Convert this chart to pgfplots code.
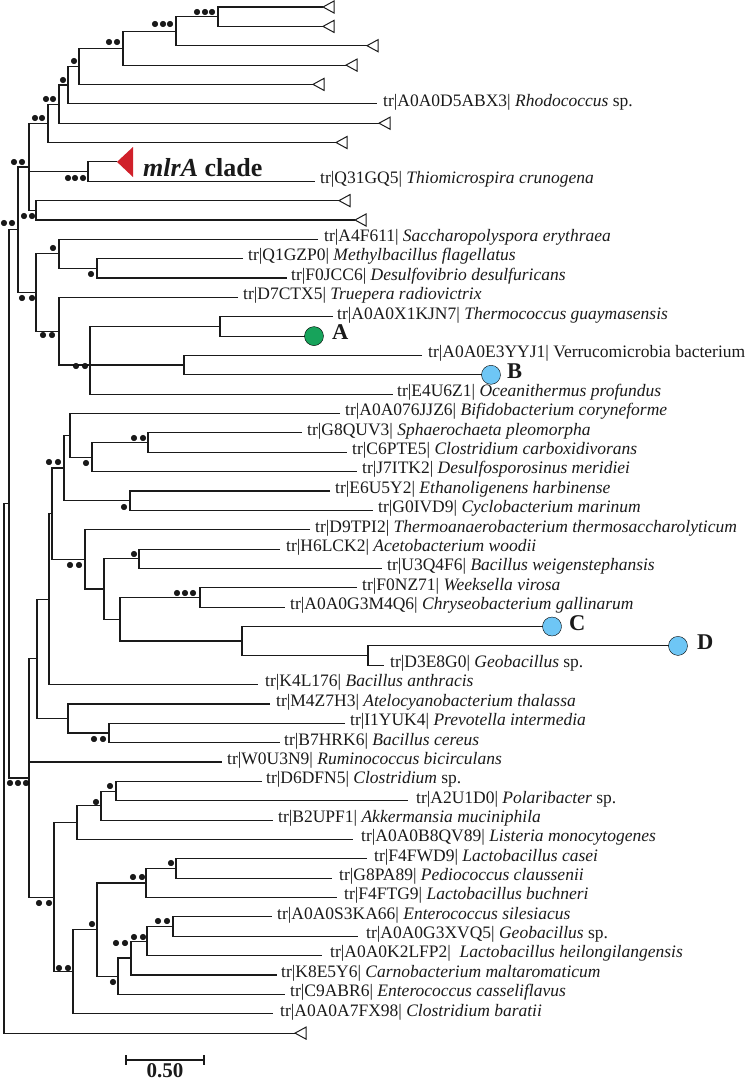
\documentclass[border=0pt]{standalone}
\usepackage{fontspec}
\setmainfont{Liberation Serif}
\usepackage{pgfplots}
\pgfplotsset{compat=1.18}
\definecolor{brc}{HTML}{1A1A1A}
\definecolor{dotgreen}{HTML}{17A35B}
\definecolor{dotblue}{HTML}{6EC6F5}
\definecolor{mlrred}{HTML}{D0202A}
\tikzset{
  br/.style={brc,line width=1.1pt},
  tri/.style={brc,line width=1.0pt,line join=miter},
  lab/.style={anchor=mid west,inner sep=0pt,font=\fontsize{17.5}{20}\selectfont,text=brc},
  big/.style={anchor=mid west,inner sep=0pt,font=\fontsize{22.5}{26}\selectfont\bfseries,text=brc}}
\begin{document}
\begin{tikzpicture}
\begin{axis}[width=751pt,height=1081pt,scale only axis,
  xmin=0,xmax=751,ymin=0,ymax=1081,y dir=reverse,hide axis,clip=false,
  unbounded coords=jump]
% ---- upper clade
\addplot[br,no marks] coordinates {(323,7.0)(218,7.0)(218,26.4)(323,26.4)};
\addplot[br,no marks] coordinates {(218,16.7)(176,16.7)(176,45.7)(367,45.7)};
\addplot[br,no marks] coordinates {(176,31.2)(123,31.2)(123,65.1)(346,65.1)};
\addplot[br,no marks] coordinates {(123,48.2)(79,48.2)(79,84.4)(313,84.4)};
\addplot[br,no marks] coordinates {(79,66.3)(68,66.3)(68,103.8)(377,103.8)};
\addplot[br,no marks] coordinates {(68,85.0)(59,85.0)(59,123.2)(379,123.2)};
\addplot[br,no marks] coordinates {(59,104.1)(48,104.1)(48,142.5)(336,142.5)};
\addplot[br,no marks] coordinates {(117,161.9)(88,161.9)(88,181.2)(315,181.2)};
\addplot[br,no marks] coordinates {(339,200.6)(36,200.6)(36,220.0)(355,220.0)};
\addplot[br,no marks] coordinates {(48,123.3)(29,123.3)(29,210.3)(36,210.3) (nan,nan) (29,171.5)(88,171.5)};
\addplot[br,no marks] coordinates {(29,167)(18,167)(18,292.5)(36,292.5)};
\addplot[br,no marks] coordinates {(243,258.7)(97,258.7)(97,278.0)(287,278.0)};
\addplot[br,no marks] coordinates {(318,239.3)(59,239.3)(59,268.3)(97,268.3)};
\addplot[br,no marks] coordinates {(59,253.8)(36,253.8)(36,331.2)(59,331.2)};
\addplot[br,no marks] coordinates {(238,297.4)(59,297.4)(59,365)(90,365)};
\addplot[br,no marks] coordinates {(220,326.5)(90,326.5)(90,394.2)(393,394.2) (nan,nan) (90,365)(184,365)};
\addplot[br,no marks] coordinates {(333,316.8)(220,316.8)(220,336.1)(314,336.1)};
\addplot[br,no marks] coordinates {(422,355.5)(184,355.5)(184,374.8)(491,374.8)};
\addplot[br,no marks] coordinates {(18,229.8)(9,229.8)(9,778)(29,778)};
\addplot[br,no marks] coordinates {(9,503.9)(4,503.9)(4,1033.1)(295,1033.1)};
% ---- lower clade
\addplot[br,no marks] coordinates {(302,432.9)(148,432.9)(148,452.3)(347,452.3)};
\addplot[br,no marks] coordinates {(148,442.6)(92,442.6)(92,471.6)(357,471.6)};
\addplot[br,no marks] coordinates {(340,413.6)(70,413.6)(70,457.1)(92,457.1)};
\addplot[br,no marks] coordinates {(330,491.0)(130,491.0)(130,510.4)(373,510.4)};
\addplot[br,no marks] coordinates {(70,435.4)(64,435.4)(64,500.7)(130,500.7)};
\addplot[br,no marks] coordinates {(280,549.1)(139,549.1)(139,568.4)(382,568.4)};
\addplot[br,no marks] coordinates {(357,587.8)(200,587.8)(200,607.2)(285,607.2)};
\addplot[br,no marks] coordinates {(678,645.9)(368,645.9)(368,665.2)(384,665.2)};
\addplot[br,no marks] coordinates {(552,626.5)(242,626.5)(242,655.6)(368,655.6)};
\addplot[br,no marks] coordinates {(200,597.5)(120,597.5)(120,641)(242,641)};
\addplot[br,no marks] coordinates {(139,558.8)(104,558.8)(104,619.3)(120,619.3)};
\addplot[br,no marks] coordinates {(310,529.7)(85,529.7)(85,589)(104,589)};
\addplot[br,no marks] coordinates {(64,468)(52,468)(52,559.4)(85,559.4)};
\addplot[br,no marks] coordinates {(52,513.7)(49,513.7)(49,684.6)(258,684.6)};
\addplot[br,no marks] coordinates {(345,723.3)(109,723.3)(109,742.7)(280,742.7)};
\addplot[br,no marks] coordinates {(270,704.0)(68,704.0)(68,733)(109,733)};
\addplot[br,no marks] coordinates {(49,599.2)(37,599.2)(37,718.5)(68,718.5)};
\addplot[br,no marks] coordinates {(262,781.4)(116,781.4)(116,800.8)(408,800.8)};
\addplot[br,no marks] coordinates {(116,791.1)(101,791.1)(101,820.1)(273,820.1)};
\addplot[br,no marks] coordinates {(101,805.6)(77,805.6)(77,839.5)(353,839.5)};
\addplot[br,no marks] coordinates {(367,858.8)(176,858.8)(176,878.2)(332,878.2)};
\addplot[br,no marks] coordinates {(176,868.5)(146,868.5)(146,897.6)(337,897.6)};
\addplot[br,no marks] coordinates {(272,916.9)(173,916.9)(173,936.3)(358,936.3)};
\addplot[br,no marks] coordinates {(173,926.6)(147,926.6)(147,955.6)(322,955.6)};
\addplot[br,no marks] coordinates {(147,941.1)(131,941.1)(131,975.0)(277,975.0)};
\addplot[br,no marks] coordinates {(131,958)(118,958)(118,994.4)(285,994.4)};
\addplot[br,no marks] coordinates {(146,883)(97,883)(97,976.2)(118,976.2)};
\addplot[br,no marks] coordinates {(97,929.6)(73,929.6)(73,1013.7)(273,1013.7)};
\addplot[br,no marks] coordinates {(77,822.6)(54,822.6)(54,971.7)(73,971.7)};
\addplot[br,no marks] coordinates {(37,658.9)(29,658.9)(29,897.1)(54,897.1) (nan,nan) (29,762.0)(222,762.0)};
% ---- collapsed clades (open triangles)
\addplot[tri,no marks] coordinates {(323,7.0)(334,1.0)(334,13.0)} -- cycle;
\addplot[tri,no marks] coordinates {(323,26.4)(334,20.4)(334,32.4)} -- cycle;
\addplot[tri,no marks] coordinates {(367,45.7)(378,39.7)(378,51.7)} -- cycle;
\addplot[tri,no marks] coordinates {(346,65.1)(357,59.1)(357,71.1)} -- cycle;
\addplot[tri,no marks] coordinates {(313,84.4)(324,78.4)(324,90.4)} -- cycle;
\addplot[tri,no marks] coordinates {(379,123.2)(390,117.2)(390,129.2)} -- cycle;
\addplot[tri,no marks] coordinates {(336,142.5)(347,136.5)(347,148.5)} -- cycle;
\addplot[tri,no marks] coordinates {(339,200.6)(350,194.6)(350,206.6)} -- cycle;
\addplot[tri,no marks] coordinates {(355,220.0)(366,214.0)(366,226.0)} -- cycle;
\addplot[tri,no marks] coordinates {(295,1033.1)(306,1027.1)(306,1039.1)} -- cycle;
% mlrA clade
\addplot[fill=mlrred,draw=none,no marks] coordinates {(117,161.9)(133,147)(133,177)} -- cycle;
\node[anchor=base west,inner sep=0pt,font=\fontsize{26}{30}\selectfont\bfseries,text=brc] at (143,176.5) {\textit{mlrA} clade};
% ---- support dots
\addplot[only marks,mark=*,mark size=2.8pt,mark options={draw=none,fill=brc}] coordinates {
(197,12)(205,12)(212,12)
(155,24)(163,24)(170,24)
(109,42)(117,42)
(74,61)
(63,80)
(46,99)(53,99)
(35,118)(42,118)
(14,162)(22,162)
(68,178)(75,178)(83,178)
(24,216)(32,216)
(4,223)(12,223)
(53,248)
(91,274)
(22,298)(32,298)
(43,335)(52,335)
(76,366)(85,366)
(134,438)(143,438)
(86,463)
(49,462)(58,462)
(124,507)
(70,565)(79,565)
(134,554)
(177,593)(185,593)(193,593)
(94,739)(103,739)
(10,783)(18,783)(26,783)
(110,786)
(96,802)
(39,903)(49,903)
(171,863)
(133,877)(142,877)
(92,924)
(158,921)(167,921)
(134,937)(143,937)
(116,943)(125,943)
(113,982)
(59,968)(68,968)
};
% ---- coloured dots
\addplot[only marks,mark=*,mark size=9.5pt,mark options={draw=none,fill=dotgreen}] coordinates {(314,336.1)};
\addplot[only marks,mark=*,mark size=9.5pt,mark options={draw=none,fill=dotblue}] coordinates {(491,374.8)(552,626.5)(678,645.9)};
\node[big] at (332,337) {A};
\node[big] at (507,376) {B};
\node[big] at (569,628) {C};
\node[big] at (697,647) {D};
% ---- scale bar
\addplot[br,no marks] coordinates {(126,1055)(126,1065) (nan,nan) (126,1060)(204,1060) (nan,nan) (204,1055)(204,1065)};
\node[anchor=base,inner sep=0pt,font=\fontsize{21}{24}\selectfont\bfseries,text=brc] at (165,1077) {0.50};
% ---- leaf labels
\node[lab] at (383,103.8) {tr|A0A0D5ABX3| \textit{Rhodococcus} sp.};
\node[lab] at (320,181.2) {tr|Q31GQ5| \textit{Thiomicrospira crunogena}};
\node[lab] at (324,239.3) {tr|A4F611| \textit{Saccharopolyspora erythraea}};
\node[lab] at (248,258.7) {tr|Q1GZP0| \textit{Methylbacillus flagellatus}};
\node[lab] at (291,278.0) {tr|F0JCC6| \textit{Desulfovibrio desulfuricans}};
\node[lab] at (243,297.4) {tr|D7CTX5| \textit{Truepera radiovictrix}};
\node[lab] at (337,316.8) {tr|A0A0X1KJN7| \textit{Thermococcus guaymasensis}};
\node[lab] at (428,355.5) {tr|A0A0E3YYJ1| Verrucomicrobia bacterium};
\node[lab] at (397,394.2) {tr|E4U6Z1| \textit{Oceanithermus profundus}};
\node[lab] at (345,413.6) {tr|A0A076JJZ6| \textit{Bifidobacterium coryneforme}};
\node[lab] at (307,432.9) {tr|G8QUV3| \textit{Sphaerochaeta pleomorpha}};
\node[lab] at (352,452.3) {tr|C6PTE5| \textit{Clostridium carboxidivorans}};
\node[lab] at (362,471.6) {tr|J7ITK2| \textit{Desulfosporosinus meridiei}};
\node[lab] at (335,491.0) {tr|E6U5Y2| \textit{Ethanoligenens harbinense}};
\node[lab] at (378,510.4) {tr|G0IVD9| \textit{Cyclobacterium marinum}};
\node[lab] at (315,529.7) {tr|D9TPI2| \textit{Thermoanaerobacterium thermosaccharolyticum}};
\node[lab] at (286,549.1) {tr|H6LCK2| \textit{Acetobacterium woodii}};
\node[lab] at (387,568.4) {tr|U3Q4F6| \textit{Bacillus weigenstephansis}};
\node[lab] at (362,587.8) {tr|F0NZ71| \textit{Weeksella virosa}};
\node[lab] at (290,607.2) {tr|A0A0G3M4Q6| \textit{Chryseobacterium gallinarum}};
\node[lab] at (390,665.2) {tr|D3E8G0| \textit{Geobacillus} sp.};
\node[lab] at (265,684.6) {tr|K4L176| \textit{Bacillus anthracis}};
\node[lab] at (276,704.0) {tr|M4Z7H3| \textit{Atelocyanobacterium thalassa}};
\node[lab] at (350,723.3) {tr|I1YUK4| \textit{Prevotella intermedia}};
\node[lab] at (284,742.7) {tr|B7HRK6| \textit{Bacillus cereus}};
\node[lab] at (227,762.0) {tr|W0U3N9| \textit{Ruminococcus bicirculans}};
\node[lab] at (266,781.4) {tr|D6DFN5| \textit{Clostridium} sp.};
\node[lab] at (416,800.8) {tr|A2U1D0| \textit{Polaribacter} sp.};
\node[lab] at (278,820.1) {tr|B2UPF1| \textit{Akkermansia muciniphila}};
\node[lab] at (361,839.5) {tr|A0A0B8QV89| \textit{Listeria monocytogenes}};
\node[lab] at (374,858.8) {tr|F4FWD9| \textit{Lactobacillus casei}};
\node[lab] at (339,878.2) {tr|G8PA89| \textit{Pediococcus claussenii}};
\node[lab] at (344,897.6) {tr|F4FTG9| \textit{Lactobacillus buchneri}};
\node[lab] at (277,916.9) {tr|A0A0S3KA66| \textit{Enterococcus silesiacus}};
\node[lab] at (366,936.3) {tr|A0A0G3XVQ5| \textit{Geobacillus} sp.};
\node[lab] at (330,955.6) {tr|A0A0K2LFP2|\ \ \textit{Lactobacillus heilongilangensis}};
\node[lab] at (281,975.0) {tr|K8E5Y6| \textit{Carnobacterium maltaromaticum}};
\node[lab] at (290,994.4) {tr|C9ABR6| \textit{Enterococcus casseliflavus}};
\node[lab] at (280,1013.7) {tr|A0A0A7FX98| \textit{Clostridium baratii}};
\end{axis}
\pgfresetboundingbox
\path[use as bounding box] (0,0) rectangle (751pt,1081pt);
\end{tikzpicture}
\end{document}
